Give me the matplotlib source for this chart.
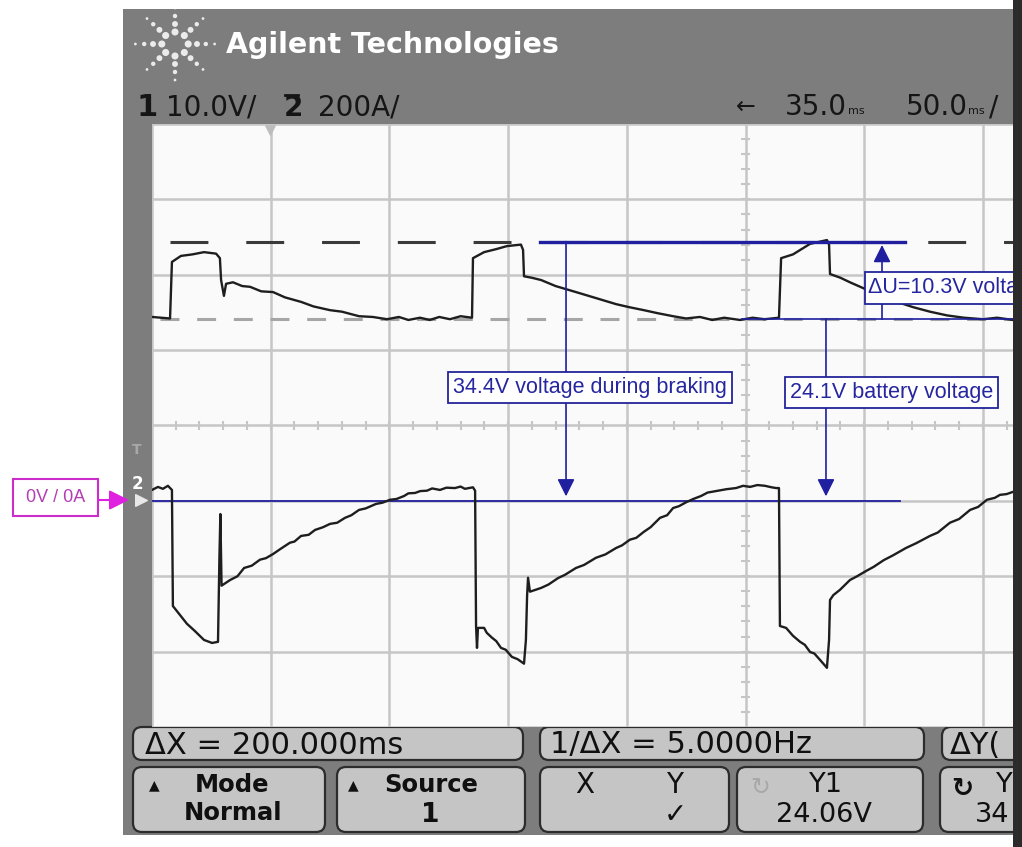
import numpy as np
import matplotlib
matplotlib.use('Agg')
import matplotlib.pyplot as plt
from matplotlib.patches import Rectangle, FancyBboxPatch

# scope settings
ms_per_div = 50
v_per_div = 10
a_per_div = 200

# channel 1 - battery voltage (V), time in ms from left edge of screen
volt_t = [
    0, 7.6, 8.4, 12.2, 17, 21.9, 27.0, 28.6, 29.1, 30.3,
    31.2, 34.1, 38, 41.3, 46, 51.0, 56, 62.8, 68, 75.0,
    80, 87.2, 93, 99.0, 104, 108, 112.9, 117, 121, 125.5,
    130, 134.8, 135.2, 139.9, 145, 149.5, 155.4, 156.3, 156.7, 160,
    163.9, 170, 178.6, 186, 195.5, 201, 207.2, 213, 219.5, 225,
    230.8, 236, 241, 247.7, 253, 258, 264.1, 265.0, 270.0, 277.2,
    284.3, 285.2, 285.6, 290, 294.0, 301.2, 310.9, 320.6, 327.7, 335,
    342.0, 350, 356, 362.7]
volt_v = [
    24.4, 24.2, 31.7, 32.5, 32.7, 33.0, 32.8, 32.2, 29.3, 27.2,
    28.8, 29.0, 28.5, 28.4, 27.8, 27.7, 27.0, 26.4, 25.8, 25.3,
    25.1, 24.5, 24.4, 24.1, 24.4, 24.0, 24.3, 24.0, 24.4, 24.1,
    24.5, 24.3, 32.2, 33.0, 33.4, 33.8, 34.0, 33.3, 29.8, 29.6,
    29.3, 28.5, 27.7, 27.0, 26.1, 25.7, 25.3, 24.9, 24.5, 24.2,
    24.4, 24.0, 24.3, 24.0, 24.3, 24.1, 24.3, 32.2, 32.7, 34.1,
    34.6, 34.0, 30.1, 29.6, 29.0, 28.0, 26.7, 25.7, 25.1, 24.6,
    24.3, 24.1, 24.3, 24.0]

# channel 2 - motor current (A)
amp_t = [
    0, 2.5, 4.6, 6.7, 8.4, 8.8, 14.7, 18, 21.9, 25.3,
    27.8, 28.4, 28.8, 29.3, 32.9, 36, 38.8, 42, 45.5, 48,
    51.0, 54, 58.1, 60, 62.8, 66, 68.7, 72, 75.0, 78,
    81.3, 84, 87.2, 90, 94.4, 97, 100.3, 103, 106.2, 108,
    110.8, 113, 115.8, 118, 121.3, 124, 127.6, 130, 131.8, 135.2,
    136.1, 136.5, 136.9, 137.3, 139.9, 141, 143.2, 145, 147.0, 149,
    151.6, 154, 156.7, 157.5, 158.0, 158.4, 159.2, 163.9, 167, 171.0,
    174, 178.6, 182, 187.0, 191, 195.5, 198, 201.3, 204, 207.2,
    210, 214.0, 217, 219.5, 222, 225.2, 228, 231.3, 234, 238.4,
    242, 246.0, 249, 251.9, 255, 258.2, 261, 262.9, 264.1, 264.5,
    267.1, 270.0, 273.0, 275, 277.2, 279, 281.4, 284.3, 285.2, 285.6,
    287, 289.8, 294.0, 297, 300.8, 304, 308.3, 312, 317.6, 322,
    327.7, 331, 336.1, 340, 344.6, 348, 351.7, 355, 357.2, 360,
    362.7]
amp_i = [
    29, 37, 32, 40, 29, -279, -326, -345, -369, -377,
    -374, -150, -35, -225, -210, -200, -178, -172, -156, -152,
    -141, -128, -111, -108, -93, -90, -77, -70, -61, -58,
    -45, -38, -24, -20, -8, -5, 3, 5, 13, 20,
    21, 26, 27, 33, 29, 35, 34, 38, 32, 36,
    27, -332, -390, -337, -337, -350, -363, -372, -390, -395,
    -414, -420, -432, -369, -252, -204, -241, -231, -222, -205,
    -196, -178, -170, -151, -142, -125, -118, -103, -98, -82,
    -70, -45, -38, -19, -14, -3, 5, 13, 22, 27,
    31, 34, 40, 37, 42, 40, 36, 34, 34, -332,
    -337, -358, -374, -382, -401, -405, -422, -443, -369, -263,
    -250, -236, -210, -200, -186, -175, -157, -145, -125, -112,
    -93, -84, -58, -48, -24, -16, 3, 8, 16, 18,
    24]

# cursors
u_brake = 34.4
u_batt = 24.1

W, H = 1022, 847
fig = plt.figure(figsize=(W / 100, H / 100), dpi=100)


def px_box(x0, y0, x1, y1):
    return [x0 / W, 1 - y1 / H, (x1 - x0) / W, (y1 - y0) / H]


# background layer in pixel units (clipped at the dark strip on the right)
bg = fig.add_axes(px_box(0, 0, 1013, H))
bg.set_xlim(0, 1013)
bg.set_ylim(H, 0)
bg.axis('off')
bg.add_patch(Rectangle((123, 9), 900, 826, fc='#7d7d7d', ec='none'))
fig.add_artist(Rectangle((1013 / W, 0), 9 / W, 1, transform=fig.transFigure,
                         fc='#2b2b2b', ec='none'))

# logo
ang = np.repeat(np.arange(8) * np.pi / 4, 4)
rad = np.tile([12, 20, 28, 36], 8)
siz = np.tile([26, 18, 10, 4], 8)
bg.scatter(175 + 1.1 * rad * np.cos(ang), 44 - rad * np.sin(ang), s=siz,
           color='white', alpha=0.85, lw=0)
bg.text(226, 45, 'Agilent Technologies', color='white', fontsize=20.5,
        fontweight='bold', va='center')

# status line
dark = '#151515'
bg.text(136, 107, '1', fontsize=22, fontweight='bold', va='center', color=dark)
bg.text(166, 107, '10.0V/', fontsize=20, va='center', color=dark)
bg.text(284, 108, '2', fontsize=20, fontweight='bold', va='center', color=dark)
bg.plot([285, 298], [95, 95], color=dark, lw=2)
bg.text(318, 107, '200A/', fontsize=20, va='center', color=dark)
bg.text(736, 107, '←', fontsize=17, va='center', color=dark)
bg.text(785, 107, '35.0', fontsize=20, va='center', color=dark)
bg.text(848, 111, 'ms', fontsize=8, va='center', color=dark)
bg.text(906, 107, '50.0', fontsize=20, va='center', color=dark)
bg.text(968, 111, 'ms', fontsize=8, va='center', color=dark)
bg.text(989, 107, '/', fontsize=20, va='center', color=dark)

# left strip markers
bg.text(137, 450, 'T', color='#a8a8a8', fontsize=10, fontweight='bold',
        ha='center', va='center')
bg.text(137, 484, '2', color='white', fontsize=12, fontweight='bold',
        ha='center', va='center')
bg.scatter([141], [500], marker='>', s=70, color='#e8e8e8', zorder=3)

# 0V / 0A marker
mag = '#cc2ccc'
bg.add_patch(Rectangle((13, 479), 85, 37, fc='white', ec=mag, lw=1.5))
bg.text(55.5, 497.5, '0V / 0A', ha='center', va='center', color='#b43cb4',
        fontsize=13, family='Liberation Sans')
bg.annotate('', xy=(129, 500), xytext=(98, 500),
            arrowprops=dict(arrowstyle='-|>,head_length=0.8,head_width=0.4',
                            color='#e020e0', lw=1.5, mutation_scale=15,
                            shrinkA=0, shrinkB=0))

# softkeys
btn = dict(boxstyle='round,pad=0,rounding_size=9', fc='#c5c5c5', ec='#2c2c2c', lw=1.6)
for x0, y0, x1, y1 in [(133, 727, 523, 760), (540, 727, 924, 760), (942, 727, 1060, 760),
                       (133, 767, 325, 832), (337, 767, 525, 832), (540, 767, 729, 832),
                       (737, 767, 923, 832), (940, 767, 1060, 832)]:
    bg.add_patch(FancyBboxPatch((x0, y0), x1 - x0, y1 - y0, **btn))

kw = dict(va='center', color='#101010')
bg.text(145, 745, 'ΔX = 200.000ms', fontsize=22, **kw)
bg.text(550, 745, '1/ΔX = 5.0000Hz', fontsize=22, **kw)
bg.text(950, 745, 'ΔY(', fontsize=22, **kw)
bg.text(154, 785, '▲', fontsize=10, ha='center', **kw)
bg.text(232, 785, 'Mode', fontsize=17.5, fontweight='bold', ha='center', **kw)
bg.text(233, 813, 'Normal', fontsize=17.5, fontweight='bold', ha='center', **kw)
bg.text(353, 785, '▲', fontsize=10, ha='center', **kw)
bg.text(431, 785, 'Source', fontsize=17.5, fontweight='bold', ha='center', **kw)
bg.text(430, 815, '1', fontsize=19, fontweight='bold', ha='center', **kw)
bg.text(585, 785, 'X', fontsize=20, ha='center', **kw)
bg.text(675, 785, 'Y', fontsize=20, ha='center', **kw)
bg.text(675, 815, '✓', fontsize=20, ha='center', **kw)
bg.text(760, 787, '↻', fontsize=17, ha='center', va='center', color='#a8a8a8')
bg.text(826, 785, 'Y1', fontsize=19.5, ha='center', **kw)
bg.text(824, 815, '24.06V', fontsize=19.5, ha='center', **kw)
bg.text(962, 789, '↻', fontsize=19, fontweight='bold', ha='center', **kw)
bg.text(996, 785, 'Y', fontsize=19.5, **kw)
bg.text(975, 815, '34', fontsize=19.5, **kw)

# scope screen
ax = fig.add_axes(px_box(152, 124, 1013, 727))
t_max = (1013 - 152) / 118.7 * ms_per_div
ax.set_xlim(0, t_max)
ax.set_ylim(-3 * v_per_div, 5 * v_per_div)
ax.set_facecolor('#fafafa')
ax.set_xticks(np.arange(0, t_max, ms_per_div))
ax.set_yticks(np.arange(-3 * v_per_div, 5.1 * v_per_div, v_per_div))
ax.grid(color='#c6c6c6', lw=1.8)
ax.tick_params(length=0, labelbottom=False, labelleft=False)
for s in ax.spines.values():
    s.set_visible(False)
ax.set_axisbelow(True)

# centre cross minor ticks
t_c = 5 * ms_per_div
v_c = 1 * v_per_div
ax.vlines(np.arange(10, t_max, 10), v_c - 0.55, v_c + 0.55, color='#c6c6c6', lw=1.5)
ax.hlines(np.arange(-28, 50, 2), t_c - 1.7, t_c + 1.7, color='#c6c6c6', lw=1.5)
ax.scatter([0.137], [0.99], transform=ax.transAxes, marker='v', s=45,
           color='#bdbdbd', clip_on=False, zorder=5)

# cursor lines
ax.plot([7.6, t_max], [u_brake, u_brake], color='#3a3a3a', lw=2.2,
        ls=(0, (12.4, 12.4)), zorder=2)
ax.plot([3.4, t_max], [u_batt, u_batt], color='#a6a6a6', lw=2.2,
        ls=(0, (6.2, 5.8)), zorder=2)

# traces
ax.plot(volt_t, volt_v, color='#1e1e1e', lw=1.7, zorder=3)
ax2 = ax.twinx()
ax2.set_ylim(-3 * a_per_div, 5 * a_per_div)
ax2.axis('off')
ax2.plot(amp_t, amp_i, color='#1e1e1e', lw=1.7)

# blue annotations
blue = '#1f1fa0'
ax.plot([163.4, 317.2], [u_brake, u_brake], color=blue, lw=2.4, zorder=4)
ax.plot([248.5, t_max], [u_batt, u_batt], color=blue, lw=1.2, zorder=4)
ax.plot([0, 315.1], [0, 0], color=blue, lw=1.3, zorder=4)


def arrow(t, y0, y1):
    ax.annotate('', xy=(t, y1), xytext=(t, y0), zorder=4,
                arrowprops=dict(arrowstyle='-|>,head_length=0.7,head_width=0.35',
                                color=blue, lw=1.2, mutation_scale=15,
                                shrinkA=0, shrinkB=0))


arrow(174.4, u_brake, 0.6)
arrow(283.9, u_batt, 0.6)
arrow(307.5, u_batt, u_brake - 0.45)

lab = dict(color='#2626a0', fontsize=15.5, family='Liberation Sans', va='center',
           zorder=6, bbox=dict(boxstyle='square,pad=0.22', fc='white', ec='#24249a', lw=1.3))
ax.text(184.5, 15.05, '34.4V voltage during braking', ha='center', **lab)
ax.text(311.5, 14.4, '24.1V battery voltage', ha='center', **lab)
# this box runs off the right edge of the screen capture
ax.add_patch(Rectangle((300.2, 26.1), 80, 4.3, fc='white', ec='#24249a', lw=1.3, zorder=6))
ax.text(301.8, 28.25, 'ΔU=10.3V volta', ha='left', va='center', color='#2626a0',
        fontsize=15.5, family='Liberation Sans', zorder=7)

fig.savefig('out.png', dpi=100)
